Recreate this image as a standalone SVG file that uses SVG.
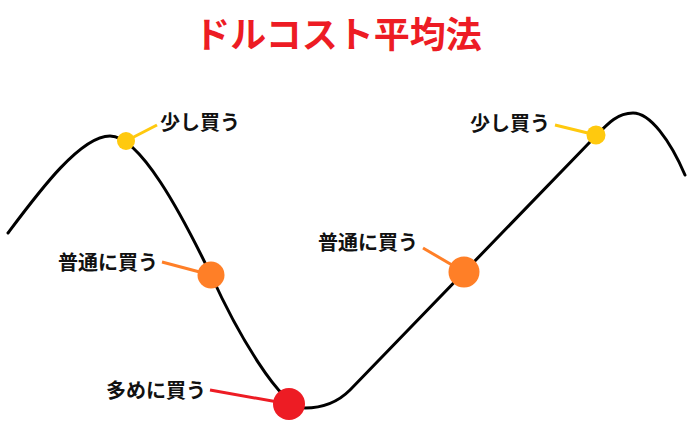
<svg xmlns="http://www.w3.org/2000/svg" width="697" height="432" viewBox="0 0 697 432">
<style>
.lbl{font-family:"Noto Sans CJK JP","Noto Sans",sans-serif;font-weight:bold;font-size:20px;fill:#111}
.title{font-family:"Noto Sans CJK JP","Noto Sans",sans-serif;font-weight:bold;font-size:36px;fill:#ED1C24}
.curve{fill:none;stroke:#000;stroke-width:3;stroke-linecap:round}
.lead{stroke-width:3;fill:none}
.y{fill:#FFC90E}.o{fill:#FF7F27}.r{fill:#ED1C24}
</style>
<rect width="697" height="432" fill="#fff"/>
<text class="title" x="338" y="48" text-anchor="middle">ドルコスト平均法</text>
<g id="curve">
<path class="curve" d="M8,233 C38,193 80,136 110,136 C140,136 181,213 211,275 C236,330 280,408 305,408 C320,408 336,404 350,390 L590,142 C605,127 615,113 633,113 C650,113 670,140 685,175"/>
</g>
<g id="connectors">
<line class="lead" stroke="#FFC90E" x1="157" y1="125" x2="126" y2="141"/>
<line class="lead" stroke="#FF7F27" x1="162" y1="262" x2="211" y2="275"/>
<line class="lead" stroke="#ED1C24" x1="210" y1="390" x2="289" y2="404"/>
<line class="lead" stroke="#FFC90E" x1="555" y1="125" x2="596" y2="135"/>
<line class="lead" stroke="#FF7F27" x1="423" y1="248" x2="464" y2="272"/>
</g>
<g id="n1"><circle class="y" cx="126" cy="141" r="9"/><text class="lbl" x="160" y="130">少し買う</text></g>
<g id="n2"><circle class="o" cx="211" cy="275" r="13.5"/><text class="lbl" x="58" y="270">普通に買う</text></g>
<g id="n3"><circle class="r" cx="289" cy="404" r="16"/><text class="lbl" x="106" y="398">多めに買う</text></g>
<g id="n4"><circle class="o" cx="464" cy="272" r="15.5"/><text class="lbl" x="318" y="250">普通に買う</text></g>
<g id="n5"><circle class="y" cx="596" cy="135" r="9.5"/><text class="lbl" x="470" y="131">少し買う</text></g>
</svg>
